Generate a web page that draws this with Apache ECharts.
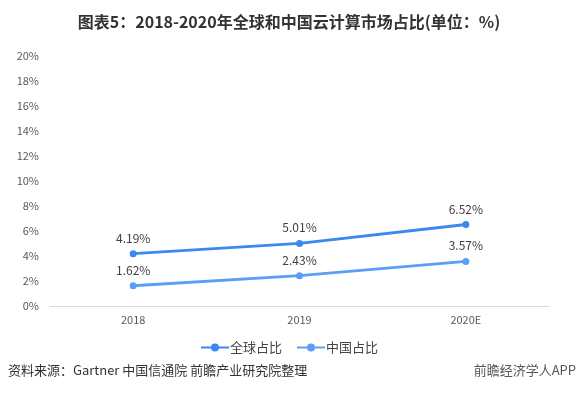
<!DOCTYPE html>
<html><head><meta charset="utf-8">
<script src="https://cdn.jsdelivr.net/npm/echarts@6/dist/echarts.min.js"></script>
<style>html,body{margin:0;padding:0;background:#fff}#c{width:578px;height:394px}</style>
</head><body><div id="c"></div>
<script>
const categories = ['2018', '2019', '2020E'];
const globalShare = [4.19, 5.01, 6.52];
const chinaShare = [1.62, 2.43, 3.57];
const yTicks = [0, 2, 4, 6, 8, 10, 12, 14, 16, 18, 20];

const chart = echarts.init(document.getElementById('c'), null, {renderer: 'canvas'});
const font = '"Microsoft YaHei","Noto Sans CJK SC",sans-serif';
chart.setOption({
  backgroundColor: '#fff',
  animation: false,
  title: {
    text: '图表5：2018-2020年全球和中国云计算市场占比(单位：%)',
    left: 'center', top: 9,
    textStyle: {fontSize: 16, fontWeight: 'bold', color: '#333', fontFamily: font}
  },
  legend: {
    data: ['全球占比', '中国占比'],
    left: 'center', top: 336,
    itemWidth: 28, itemHeight: 10, itemGap: 14,
    textStyle: {fontSize: 13, color: '#444', fontFamily: font, padding: [0, 0, 0, -4]}
  },
  grid: {left: 50, right: 29, top: 56, bottom: 88},
  xAxis: {
    type: 'category', data: categories, boundaryGap: true,
    axisLine: {lineStyle: {color: '#d9d9d9'}},
    axisTick: {show: false},
    axisLabel: {color: '#595959', fontSize: 11, margin: 8, fontFamily: font}
  },
  yAxis: {
    type: 'value', min: 0, max: 20, interval: 2,
    axisLine: {show: false}, axisTick: {show: false}, splitLine: {show: false},
    axisLabel: {color: '#595959', fontSize: 11, margin: 11, fontFamily: font,
      formatter: v => yTicks.includes(v) ? v + '%' : ''}
  },
  series: [
    {name: '全球占比', type: 'line', data: globalShare,
     symbol: 'circle', symbolSize: 7,
     lineStyle: {width: 3, color: '#3a88f0'}, itemStyle: {color: '#3a88f0'},
     label: {show: true, position: 'top', distance: 6, formatter: p => p.value.toFixed(2) + '%',
       color: '#404040', fontSize: 12, fontFamily: font}},
    {name: '中国占比', type: 'line', data: chinaShare,
     symbol: 'circle', symbolSize: 7,
     lineStyle: {width: 3, color: '#5a9ef5'}, itemStyle: {color: '#5a9ef5'},
     label: {show: true, position: 'top', distance: 6, formatter: p => p.value.toFixed(2) + '%',
       color: '#404040', fontSize: 12, fontFamily: font}}
  ],
  graphic: [
    {type: 'text', left: 8, top: 364,
     style: {text: '资料来源：Gartner 中国信通院 前瞻产业研究院整理', fontSize: 13, fill: '#333', fontFamily: font}},
    {type: 'text', right: 2, top: 364,
     style: {text: '前瞻经济学人APP', fontSize: 13, fill: '#555', fontFamily: font}}
  ]
});
</script></body></html>
